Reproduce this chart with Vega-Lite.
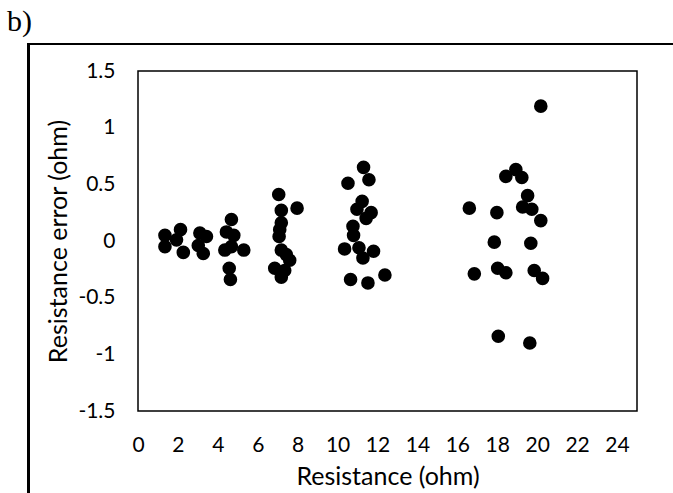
{
  "$schema": "https://vega.github.io/schema/vega-lite/v6.json",
  "width": 499,
  "height": 340,
  "autosize": {"type": "none"},
  "padding": {"left": 138, "top": 71, "right": 36, "bottom": 82},
  "background": "white",
  "title": {
    "text": "b)",
    "anchor": "start",
    "frame": "group",
    "font": "Liberation Serif",
    "fontSize": 30,
    "fontWeight": "normal",
    "color": "black",
    "baseline": "alphabetic",
    "dx": -131,
    "offset": -18
  },
  "config": {
    "view": {"stroke": "black", "strokeWidth": 1.5},
    "axis": {
      "labelFont": "Lato",
      "titleFont": "Lato",
      "labelColor": "black",
      "titleColor": "black",
      "labelFontSize": 21,
      "titleFontSize": 25,
      "titleFontWeight": "normal",
      "domain": false,
      "ticks": false,
      "grid": false
    }
  },
  "data": {
    "values": [
      {"r": 1.35, "e": 0.05}, {"r": 1.35, "e": -0.05}, {"r": 2.13, "e": 0.10}, {"r": 1.93, "e": 0.01}, {"r": 2.27, "e": -0.10},
      {"r": 3.10, "e": 0.07}, {"r": 3.43, "e": 0.04}, {"r": 3.02, "e": -0.04}, {"r": 3.27, "e": -0.11},
      {"r": 4.68, "e": 0.19}, {"r": 4.43, "e": 0.08}, {"r": 4.80, "e": 0.05}, {"r": 4.35, "e": -0.08}, {"r": 4.68, "e": -0.05},
      {"r": 5.30, "e": -0.08}, {"r": 4.57, "e": -0.24}, {"r": 4.63, "e": -0.34},
      {"r": 7.05, "e": 0.41}, {"r": 7.97, "e": 0.29}, {"r": 7.18, "e": 0.27}, {"r": 7.18, "e": 0.16}, {"r": 7.10, "e": 0.10},
      {"r": 7.07, "e": 0.04}, {"r": 7.18, "e": -0.08}, {"r": 7.43, "e": -0.12}, {"r": 7.60, "e": -0.17}, {"r": 6.85, "e": -0.24},
      {"r": 7.18, "e": -0.32}, {"r": 7.35, "e": -0.26},
      {"r": 11.30, "e": 0.65}, {"r": 11.57, "e": 0.54}, {"r": 10.52, "e": 0.51}, {"r": 11.23, "e": 0.35}, {"r": 10.97, "e": 0.28},
      {"r": 11.68, "e": 0.25}, {"r": 11.43, "e": 0.20}, {"r": 10.77, "e": 0.13}, {"r": 10.80, "e": 0.05}, {"r": 10.35, "e": -0.07},
      {"r": 11.07, "e": -0.06}, {"r": 11.80, "e": -0.09}, {"r": 11.27, "e": -0.15}, {"r": 10.65, "e": -0.34}, {"r": 11.52, "e": -0.37},
      {"r": 12.37, "e": -0.30},
      {"r": 20.18, "e": 1.19}, {"r": 18.43, "e": 0.57}, {"r": 18.93, "e": 0.63}, {"r": 19.23, "e": 0.56}, {"r": 19.52, "e": 0.40},
      {"r": 16.60, "e": 0.29}, {"r": 17.98, "e": 0.25}, {"r": 19.27, "e": 0.30}, {"r": 19.73, "e": 0.28}, {"r": 20.18, "e": 0.18},
      {"r": 17.85, "e": -0.01}, {"r": 19.68, "e": -0.02}, {"r": 16.85, "e": -0.29}, {"r": 18.02, "e": -0.24}, {"r": 18.43, "e": -0.28},
      {"r": 19.85, "e": -0.26}, {"r": 20.27, "e": -0.33}, {"r": 18.05, "e": -0.84}, {"r": 19.63, "e": -0.90}
    ]
  },
  "layer": [
    {
      "mark": {"type": "rect", "fill": null, "fillOpacity": 0, "stroke": "black", "strokeWidth": 1.5, "clip": false},
      "encoding": {
        "x": {"datum": -5.485, "type": "quantitative"},
        "x2": {"datum": 35},
        "y": {"datum": 1.738, "type": "quantitative"},
        "y2": {"datum": -3}
      }
    },
    {
      "mark": {"type": "circle", "size": 185, "color": "black", "opacity": 1},
      "encoding": {
        "x": {
          "field": "r",
          "type": "quantitative",
          "title": "Resistance (ohm)",
          "scale": {"domain": [0, 25], "nice": false, "zero": false},
          "axis": {"values": [0, 2, 4, 6, 8, 10, 12, 14, 16, 18, 20, 22, 24], "labelPadding": 23, "titlePadding": 9, "labelFlush": false, "labelExpr": "'' + datum.value"}
        },
        "y": {
          "field": "e",
          "type": "quantitative",
          "title": "Resistance error (ohm)",
          "scale": {"domain": [-1.5, 1.5], "nice": false, "zero": false},
          "axis": {"values": [-1.5, -1, -0.5, 0, 0.5, 1, 1.5], "labelPadding": 23, "titlePadding": 6, "labelFlush": false, "labelExpr": "'' + datum.value"}
        }
      }
    }
  ]
}
